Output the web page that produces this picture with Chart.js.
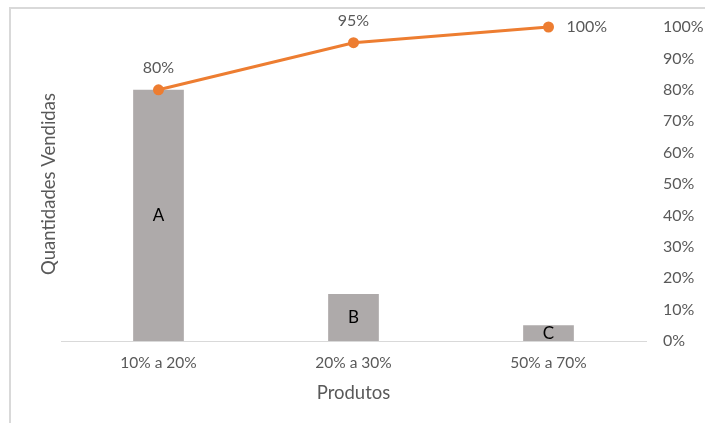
<!DOCTYPE html>
<html>
<head>
<meta charset="utf-8">
<script src="https://cdn.jsdelivr.net/npm/chart.js@4/dist/chart.umd.min.js"></script>
<style>
  html, body { margin: 0; padding: 0; background: #fff; }
  #wrap { position: relative; width: 705px; height: 423px; }
  #frame { position: absolute; left: 9px; top: 7px; right: 0; bottom: 0;
           border-left: 2px solid #d9d9d9; border-top: 2px solid #d9d9d9; }
  canvas { position: absolute; left: 0; top: 0; }
</style>
</head>
<body>
<div id="wrap">
  <div id="frame"></div>
  <canvas id="myChart" width="705" height="423"></canvas>
</div>
<script>
// Curva ABC: quantidades por classe e percentual acumulado

const produtos = ['10% a 20%', '20% a 30%', '50% a 70%'];  // x-axis categories
const classes = ['A', 'B', 'C'];                            // labels inside the bars
const quantidades = [80, 15, 5];                            // bar heights (left axis, hidden)
const acumulado = [80, 95, 100];                            // cumulative % (right axis)
const ticksDireita = [0, 10, 20, 30, 40, 50, 60, 70, 80, 90, 100];

const fonte = "Lato, 'Liberation Sans', sans-serif";
const cinzaTexto = '#595959';

// draws the class letter in each bar and the % next to each line point
const rotulos = {
    id: 'rotulos',
    afterDatasetsDraw(chart) {
        const ctx = chart.ctx;
        ctx.save();
        ctx.textBaseline = 'middle';

        const barras = chart.getDatasetMeta(1);
        ctx.font = '17px ' + fonte;
        ctx.fillStyle = '#000';
        ctx.textAlign = 'center';
        barras.data.forEach((bar, i) => {
            ctx.fillText(classes[i], bar.x, (bar.y + bar.base) / 2);
        });

        const linha = chart.getDatasetMeta(0);
        ctx.font = '16px ' + fonte;
        ctx.fillStyle = cinzaTexto;
        linha.data.forEach((pt, i) => {
            const txt = acumulado[i] + '%';
            if (i === linha.data.length - 1) {
                ctx.textAlign = 'left';
                ctx.fillText(txt, pt.x + 18, pt.y);
            } else {
                ctx.textAlign = 'center';
                ctx.fillText(txt, pt.x, pt.y - 22);
            }
        });
        ctx.restore();
    }
};

const ctx = document.getElementById('myChart');

new Chart(ctx, {
    type: 'bar',
    data: {
        labels: produtos,
        datasets: [{
            type: 'line',
            label: 'Acumulado',
            data: acumulado,
            yAxisID: 'y1',
            borderColor: '#ed7d31',
            backgroundColor: '#ed7d31',
            borderWidth: 3,
            pointRadius: 5.5,
            pointBorderWidth: 0,
            tension: 0,
            clip: false,
            order: 0
        },
        {
            label: 'Quantidades Vendidas',
            data: quantidades,
            yAxisID: 'y',
            backgroundColor: '#aeaaaa',
            categoryPercentage: 1,
            barPercentage: 0.26,
            order: 1
        }]
    },
    options: {
        responsive: false,
        animation: false,
        layout: { padding: { top: 27, left: 0, right: 0, bottom: 0 } },
        plugins: {
            legend: { display: false },
            tooltip: { enabled: false }
        },
        scales: {
            x: {
                grid: { display: false, drawTicks: false },
                border: { display: true, color: '#d9d9d9', width: 1 },
                ticks: { color: cinzaTexto, font: { family: fonte, size: 15.5 }, padding: 13 },
                title: {
                    display: true,
                    text: 'Produtos',
                    color: cinzaTexto,
                    font: { family: fonte, size: 18.5 },
                    padding: { top: 0, bottom: 19 }
                },
                afterFit: (scale) => { scale.height = 82; }
            },
            y: {
                position: 'left',
                min: 0,
                max: 100,
                grid: { display: false, drawTicks: false },
                border: { display: false },
                ticks: { display: false },
                title: {
                    display: true,
                    text: 'Quantidades Vendidas',
                    color: cinzaTexto,
                    font: { family: fonte, size: 18.5 },
                    padding: { top: 38, bottom: 0 }
                },
                afterFit: (scale) => { scale.width = 61; }
            },
            y1: {
                position: 'right',
                min: 0,
                max: 100,
                afterBuildTicks: (scale) => {
                    scale.ticks = ticksDireita.map(v => ({ value: v }));
                },
                grid: { display: false, drawTicks: false },
                border: { display: false },
                ticks: {
                    color: cinzaTexto,
                    font: { family: fonte, size: 16 },
                    padding: 17,
                    callback: (v) => v + '%'
                },
                afterFit: (scale) => { scale.width = 59; }
            }
        }
    },
    plugins: [rotulos]
});
</script>
</body>
</html>
